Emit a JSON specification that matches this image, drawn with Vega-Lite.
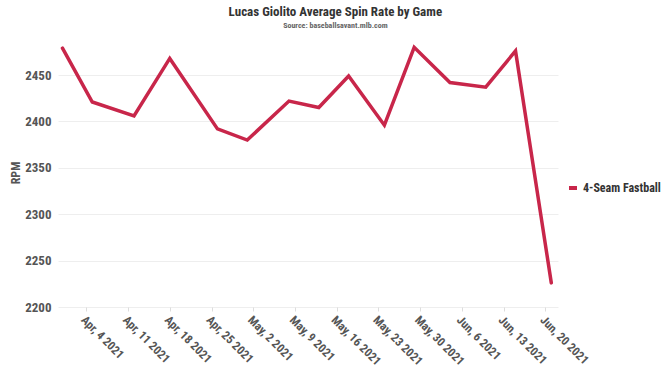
{
  "$schema": "https://vega.github.io/schema/vega-lite/v6.json",
  "width": 500,
  "height": 269,
  "autosize": {"type": "none"},
  "padding": {"left": 58, "top": 38, "right": 112, "bottom": 70},
  "title": {
    "text": "Lucas Giolito Average Spin Rate by Game",
    "subtitle": "Source: baseballsavant.mlb.com",
    "anchor": "middle",
    "frame": "bounds",
    "font": "Roboto Condensed, Liberation Sans Narrow, Arial Narrow, DejaVu Sans Condensed, sans-serif",
    "fontSize": 13,
    "fontWeight": "bold",
    "color": "#333333",
    "subtitleFont": "Roboto Condensed, Liberation Sans Narrow, Arial Narrow, DejaVu Sans Condensed, sans-serif",
    "subtitleFontSize": 8,
    "subtitleFontWeight": "bold",
    "subtitleColor": "#666666",
    "subtitlePadding": 3,
    "offset": 8
  },
  "data": {
    "values": [
      {"date": "2021/03/31", "rpm": 2479, "pitch": "4-Seam Fastball"},
      {"date": "2021/04/05", "rpm": 2421, "pitch": "4-Seam Fastball"},
      {"date": "2021/04/12", "rpm": 2406, "pitch": "4-Seam Fastball"},
      {"date": "2021/04/18", "rpm": 2468, "pitch": "4-Seam Fastball"},
      {"date": "2021/04/26", "rpm": 2392, "pitch": "4-Seam Fastball"},
      {"date": "2021/05/01", "rpm": 2380, "pitch": "4-Seam Fastball"},
      {"date": "2021/05/08", "rpm": 2422, "pitch": "4-Seam Fastball"},
      {"date": "2021/05/13", "rpm": 2415, "pitch": "4-Seam Fastball"},
      {"date": "2021/05/18", "rpm": 2449, "pitch": "4-Seam Fastball"},
      {"date": "2021/05/24", "rpm": 2396, "pitch": "4-Seam Fastball"},
      {"date": "2021/05/29", "rpm": 2480, "pitch": "4-Seam Fastball"},
      {"date": "2021/06/04", "rpm": 2442, "pitch": "4-Seam Fastball"},
      {"date": "2021/06/10", "rpm": 2437, "pitch": "4-Seam Fastball"},
      {"date": "2021/06/15", "rpm": 2476, "pitch": "4-Seam Fastball"},
      {"date": "2021/06/21", "rpm": 2226, "pitch": "4-Seam Fastball"}
    ]
  },
  "mark": {"type": "line", "strokeWidth": 3.5, "strokeCap": "round", "strokeJoin": "miter"},
  "encoding": {
    "x": {
      "field": "date",
      "type": "temporal",
      "title": null,
      "scale": {
        "domain": [
          {"year": 2021, "month": 3, "date": 30, "hours": 6},
          {"year": 2021, "month": 6, "date": 22, "hours": 3}
        ],
        "nice": false
      },
      "axis": {
        "format": "%b, %-d %Y",
        "tickCount": {"interval": "week", "step": 1},
        "labelAngle": 45,
        "labelAlign": "left",
        "labelBaseline": "top",
        "labelPadding": 3,
        "labelFont": "Roboto Condensed, Liberation Sans Narrow, Arial Narrow, DejaVu Sans Condensed, sans-serif",
        "labelFontSize": 12,
        "labelFontWeight": "bold",
        "labelColor": "#555555",
        "labelOverlap": false,
        "labelFlush": false,
        "ticks": true,
        "tickSize": 4,
        "tickColor": "#dddddd",
        "domain": false,
        "grid": false
      }
    },
    "y": {
      "field": "rpm",
      "type": "quantitative",
      "title": "RPM",
      "scale": {"domain": [2200, 2490], "nice": false, "zero": false},
      "axis": {
        "values": [2200, 2250, 2300, 2350, 2400, 2450],
        "format": "d",
        "ticks": false,
        "domain": false,
        "grid": true,
        "gridColor": "#eeeeee",
        "labelPadding": 7,
        "labelFont": "Roboto Condensed, Liberation Sans Narrow, Arial Narrow, DejaVu Sans Condensed, sans-serif",
        "labelFontSize": 13,
        "labelFontWeight": "bold",
        "labelColor": "#555555",
        "titleFont": "Roboto Condensed, Liberation Sans Narrow, Arial Narrow, DejaVu Sans Condensed, sans-serif",
        "titleFontSize": 12,
        "titleFontWeight": "bold",
        "titleColor": "#555555",
        "titlePadding": 2
      }
    },
    "color": {
      "field": "pitch",
      "type": "nominal",
      "scale": {"range": ["#c8264a"]},
      "legend": {
        "title": null,
        "orient": "none",
        "legendX": 509,
        "legendY": 144,
        "symbolType": "stroke",
        "symbolSize": 64,
        "symbolStrokeWidth": 4,
        "labelOffset": 4,
        "labelFont": "Roboto Condensed, Liberation Sans Narrow, Arial Narrow, DejaVu Sans Condensed, sans-serif",
        "labelFontSize": 12,
        "labelFontWeight": "bold",
        "labelColor": "#333333"
      }
    }
  },
  "config": {"view": {"stroke": null}}
}
